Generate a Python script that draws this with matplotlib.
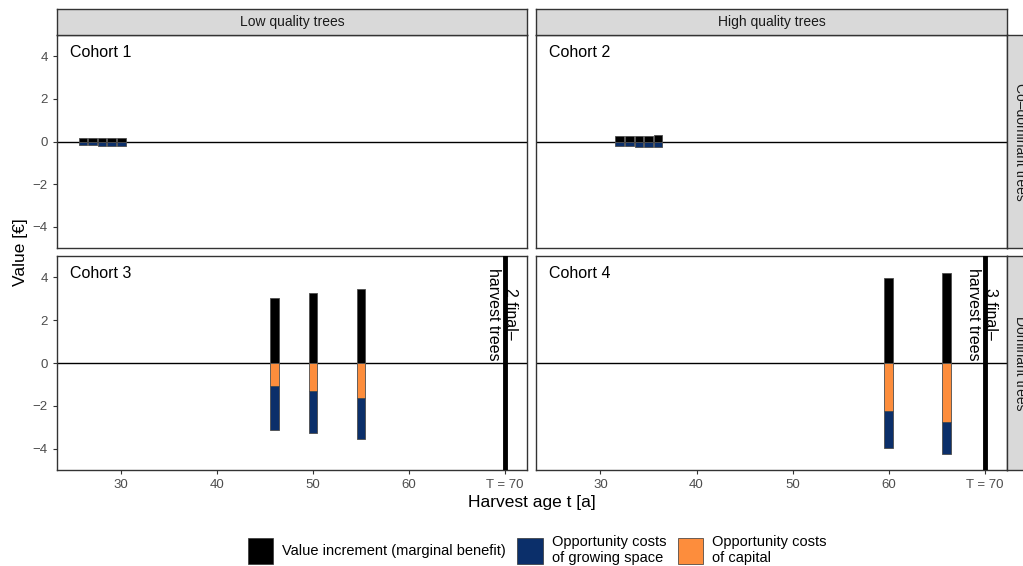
import matplotlib.pyplot as plt
from matplotlib.patches import Patch

plt.rcParams["font.family"] = ["Liberation Sans", "DejaVu Sans"]

# harvest ages and value components per cohort
ages_c1 = [26, 27, 28, 29, 30]
benefit_c1 = [0.16, 0.17, 0.17, 0.18, 0.18]
capital_c1 = [0.02, 0.02, 0.02, 0.02, 0.02]
space_c1 = [0.16, 0.16, 0.17, 0.17, 0.17]

ages_c2 = [32, 33, 34, 35, 36]
benefit_c2 = [0.26, 0.27, 0.27, 0.28, 0.29]
capital_c2 = [0.03, 0.03, 0.03, 0.03, 0.03]
space_c2 = [0.20, 0.20, 0.21, 0.21, 0.22]

ages_c3 = [46, 50, 55]
benefit_c3 = [3.03, 3.25, 3.48]
capital_c3 = [1.07, 1.30, 1.65]
space_c3 = [2.06, 1.98, 1.92]

ages_c4 = [60, 66]
benefit_c4 = [3.99, 4.21]
capital_c4 = [2.25, 2.74]
space_c4 = [1.72, 1.49]

cohorts = ["Cohort 1", "Cohort 2", "Cohort 3", "Cohort 4"]
col_labels = ["Low quality trees", "High quality trees"]
row_labels = ["Co\u2013dominant trees", "Dominant trees"]
final_labels = ["2 final\u2013\nharvest trees", "3 final\u2013\nharvest trees"]
rotation_age = 70
x_ticks = [30, 40, 50, 60, 70]
x_tick_labels = ["30", "40", "50", "60", "T = 70"]
y_ticks = [-4, -2, 0, 2, 4]

c_benefit = "#000000"
c_space = "#0B2F6A"
c_capital = "#FD8D3C"
edge = "#333333"
bar_edge = "#4D4D4D"
gray = "#4D4D4D"

W, H = 1023, 566
fig = plt.figure(figsize=(W / 100, H / 100), dpi=100)


def box(x0, y0, x1, y1):
    return [x0 / W, 1 - y1 / H, (x1 - x0) / W, (y1 - y0) / H]


cols = [(57, 527), (536, 1007)]
rows = [(35, 248), (256, 470)]

data = [
    (ages_c1, benefit_c1, capital_c1, space_c1),
    (ages_c2, benefit_c2, capital_c2, space_c2),
    (ages_c3, benefit_c3, capital_c3, space_c3),
    (ages_c4, benefit_c4, capital_c4, space_c4),
]

for r, (y0, y1) in enumerate(rows):
    for c, (x0, x1) in enumerate(cols):
        i = r * 2 + c
        ax = fig.add_axes(box(x0, y0, x1, y1))
        ages, benefit, capital, space = data[i]
        ax.axhline(0, color="black", lw=1, zorder=1)
        ax.bar(ages, benefit, width=0.9, color=c_benefit, edgecolor=bar_edge, lw=0.6, zorder=2)
        ax.bar(ages, [-v for v in capital], width=0.9, color=c_capital, edgecolor=bar_edge, lw=0.6, zorder=2)
        ax.bar(ages, [-v for v in space], bottom=[-v for v in capital], width=0.9,
               color=c_space, edgecolor=bar_edge, lw=0.6, zorder=2)
        if r == 1:
            ax.axvline(rotation_age, color="black", lw=3.5, zorder=3)
            ax.text(rotation_age - 0.3, 4.45, final_labels[c], rotation=-90, ha="center", va="top",
                    multialignment="center", fontsize=11.5, zorder=4)
        ax.text(0.028, 0.92, cohorts[i], transform=ax.transAxes, fontsize=11.5, va="center")
        ax.set_xlim(23.3, 72.3)
        ax.set_ylim(-5, 5)
        for s in ax.spines.values():
            s.set_color(edge)
            s.set_linewidth(1)
        ax.tick_params(colors=edge, labelcolor=gray, labelsize=9.5, length=3, width=0.8)
        if r == 1:
            ax.set_xticks(x_ticks, x_tick_labels)
        else:
            ax.set_xticks([])
        if c == 0:
            ax.set_yticks(y_ticks)
        else:
            ax.set_yticks([])

# facet strips
for c, (x0, x1) in enumerate(cols):
    s = fig.add_axes(box(x0, 9, x1, 35))
    s.set_facecolor("#D9D9D9")
    s.set_xticks([])
    s.set_yticks([])
    for sp in s.spines.values():
        sp.set_color(edge)
        sp.set_linewidth(1)
    s.text(0.5, 0.5, col_labels[c], ha="center", va="center", fontsize=10, color="#1A1A1A",
           transform=s.transAxes)

for r, (y0, y1) in enumerate(rows):
    s = fig.add_axes(box(1007, y0, 1033, y1))
    s.set_facecolor("#D9D9D9")
    s.set_xticks([])
    s.set_yticks([])
    for sp in s.spines.values():
        sp.set_color(edge)
        sp.set_linewidth(1)
    s.text(0.5, 0.5, row_labels[r], ha="center", va="center", rotation=-90, fontsize=10,
           color="#1A1A1A", transform=s.transAxes)

fig.text(20 / W, 1 - 252 / H, "Value [\u20ac]", rotation=90, ha="center", va="center", fontsize=12.5)
fig.text(532 / W, 1 - 502 / H, "Harvest age t [a]", ha="center", va="center", fontsize=12.5)

handles = [
    Patch(facecolor=c_benefit, edgecolor=edge, lw=0.5, label="Value increment (marginal benefit)"),
    Patch(facecolor=c_space, edgecolor=edge, lw=0.5, label="Opportunity costs\nof growing space"),
    Patch(facecolor=c_capital, edgecolor=edge, lw=0.5, label="Opportunity costs\nof capital"),
]
fig.legend(handles=handles, loc="center", bbox_to_anchor=(537 / W, 1 - 550 / H), ncol=3,
           frameon=False, fontsize=10.5, handlelength=1.75, handleheight=2.4,
           handletextpad=0.6, columnspacing=0.8, borderpad=0, labelspacing=0)

fig.savefig("out.png", dpi=100)
